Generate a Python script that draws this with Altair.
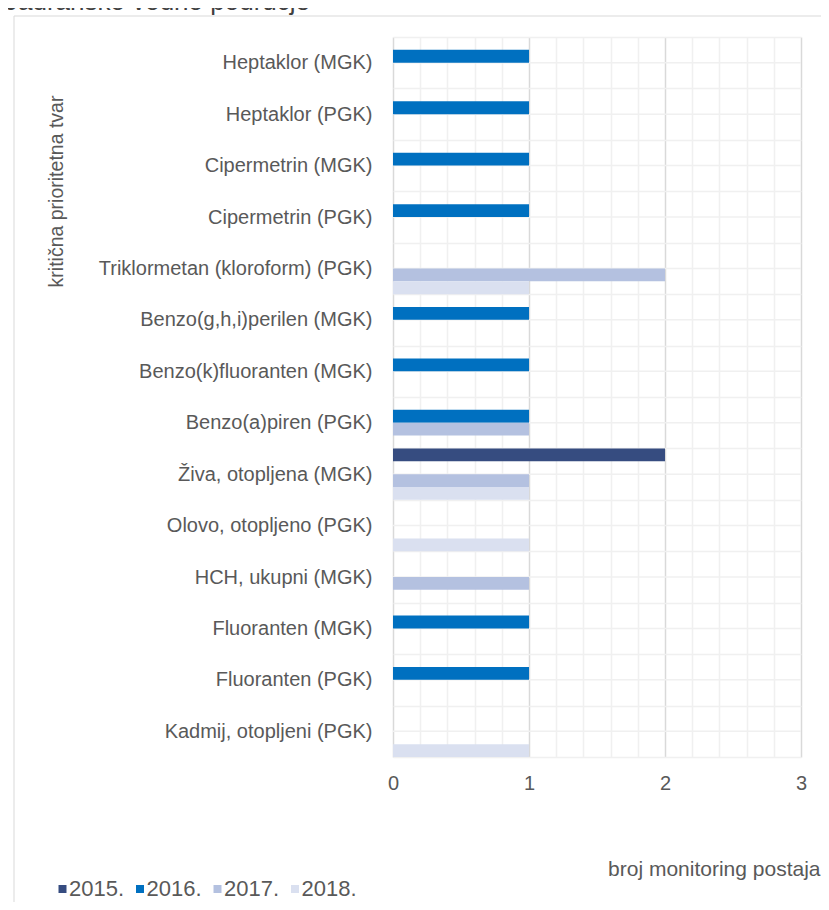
import altair as alt
import pandas as pd

title_text = "Jadransko vodno područje"
years = ["2015.", "2016.", "2017.", "2018."]
colors = ["#364C80", "#0070C0", "#B4C1E0", "#DAE0F0"]
categories = [
    "Heptaklor (MGK)",
    "Heptaklor (PGK)",
    "Cipermetrin (MGK)",
    "Cipermetrin (PGK)",
    "Triklormetan (kloroform) (PGK)",
    "Benzo(g,h,i)perilen (MGK)",
    "Benzo(k)fluoranten (MGK)",
    "Benzo(a)piren (PGK)",
    "Živa, otopljena (MGK)",
    "Olovo, otopljeno (PGK)",
    "HCH, ukupni (MGK)",
    "Fluoranten (MGK)",
    "Fluoranten (PGK)",
    "Kadmij, otopljeni (PGK)",
]
v2015 = [0, 0, 0, 0, 0, 0, 0, 0, 2, 0, 0, 0, 0, 0]
v2016 = [1, 1, 1, 1, 0, 1, 1, 1, 0, 0, 0, 1, 1, 0]
v2017 = [0, 0, 0, 0, 2, 0, 0, 1, 1, 0, 1, 0, 0, 0]
v2018 = [0, 0, 0, 0, 1, 0, 0, 0, 1, 1, 0, 0, 0, 1]
x_ticks = [0, 0.2, 0.4, 0.6, 0.8, 1, 1.2, 1.4, 1.6, 1.8, 2, 2.2, 2.4, 2.6, 2.8, 3]

series = {years[0]: v2015, years[1]: v2016, years[2]: v2017, years[3]: v2018}
rows = []
for y, vals in series.items():
    for c, v in zip(categories, vals):
        rows.append({"cat": c, "year": y, "value": v})
df = pd.DataFrame(rows)
cat_df = pd.DataFrame({"cat": categories})

FONT = "Liberation Sans"
TXT = "#595959"
MINOR = "#f0f0f0"
MAJOR = "#d9d9d9"

y_enc = alt.Y(
    "cat:N",
    sort=categories,
    scale=alt.Scale(paddingInner=0, paddingOuter=0),
    axis=alt.Axis(
        grid=True,
        tickBand="extent",
        gridColor=MINOR,
        gridWidth=1.5,
        domain=False,
        ticks=False,
        tickSize=0,
        labelPadding=21,
        labelFont=FONT,
        labelFontSize=20,
        labelColor=TXT,
        labelLimit=400,
        title="kritična prioritetna tvar",
        titleFont=FONT,
        titleFontSize=19.5,
        titleFontWeight="normal",
        titleColor=TXT,
        titleAngle=270,
        titleAlign="center",
        titleBaseline="alphabetic",
        titleX=-331,
        titleY=154,
    ),
)

x_enc = alt.X(
    "value:Q",
    scale=alt.Scale(domain=[0, 3], nice=False, zero=True),
    axis=alt.Axis(
        values=x_ticks,
        tickCount=40,
        grid=True,
        gridColor={"condition": {"test": "datum.value % 1 === 0", "value": MAJOR}, "value": MINOR},
        gridWidth=1.5,
        domain=False,
        ticks=False,
        tickSize=0,
        labelExpr="datum.value % 1 === 0 ? format(datum.value, 'd') : ''",
        labelOverlap=False,
        labelFlush=False,
        labelPadding=16.5,
        labelFont=FONT,
        labelFontSize=20,
        labelColor=TXT,
        title="broj monitoring postaja",
        titleFont=FONT,
        titleFontSize=21,
        titleFontWeight="normal",
        titleColor=TXT,
        titleAlign="right",
        titleBaseline="alphabetic",
        titleX=427,
        titleY=118,
    ),
)

mid_rules = alt.Chart(cat_df).mark_rule(color=MINOR, strokeWidth=1.5).encode(
    y=alt.Y("cat:N", sort=categories),
    x=alt.datum(0),
    x2=alt.datum(3),
)

bars = alt.Chart(df).mark_bar().encode(
    y=y_enc,
    x=x_enc,
    yOffset=alt.YOffset("year:N", sort=years, scale=alt.Scale(domain=years, paddingInner=0, paddingOuter=0)),
    color=alt.Color(
        "year:N",
        sort=years,
        scale=alt.Scale(domain=years, range=colors),
        legend=alt.Legend(
            title=None,
            orient="none",
            direction="horizontal",
            legendX=-341.5,
            legendY=841,
            symbolType="square",
            symbolSize=64,
            symbolStrokeWidth=0,
            labelFont=FONT,
            labelFontSize=22,
            labelColor=TXT,
            labelOffset={"expr": "-4.5"},
            columnPadding=4.5,
            padding=0,
        ),
    ),
)

one = pd.DataFrame({"t": [title_text]})
border_left = alt.Chart(one).mark_rule(color=MAJOR, strokeWidth=1).encode(
    x=alt.value(-379), y=alt.value(-21), y2=alt.value(900)
)
border_top = alt.Chart(one).mark_rule(color=MAJOR, strokeWidth=1).encode(
    x=alt.value(-379), x2=alt.value(500), y=alt.value(-21)
)
title = alt.Chart(one).mark_text(
    align="left", baseline="alphabetic", font=FONT, fontSize=26, color="#404040"
).encode(text="t:N", x=alt.value(-388), y=alt.value(-27))

chart = alt.layer(mid_rules, bars, border_left, border_top, title).properties(
    width=408,
    height=720,
    autosize=alt.AutoSizeParams(type="none"),
    padding={"left": 385, "top": 29, "right": 20, "bottom": 145},
).configure_view(stroke=None)

chart.save("out.html", embed_options={"renderer": "svg", "actions": False})
